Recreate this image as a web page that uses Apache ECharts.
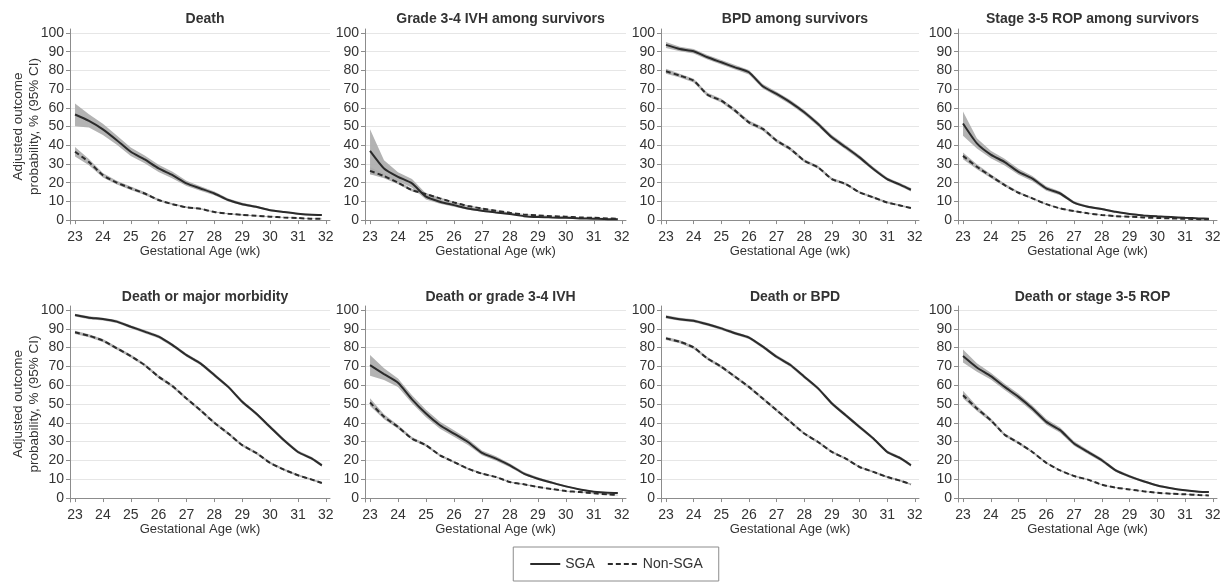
<!DOCTYPE html>
<html>
<head>
<meta charset="utf-8">
<title>Adjusted outcome probability by gestational age</title>
<script src="https://cdn.jsdelivr.net/npm/echarts@6/dist/echarts.min.js"></script>
<style>
  html, body { margin: 0; padding: 0; background: #fff; }
  #chart { width: 1232px; height: 585px; }
</style>
</head>
<body>
<div id="chart"></div>
<script>
// gestational age (weeks), 23 0/7 .. 31 6/7
var gaWeeks = [23, 23.5, 24, 24.5, 25, 25.5, 26, 26.5, 27, 27.5, 28, 28.5, 29, 29.5, 30, 30.5, 31, 31.5, 31.857];
var xTicks = [23, 24, 25, 26, 27, 28, 29, 30, 31, 32];
var yTicks = [0, 10, 20, 30, 40, 50, 60, 70, 80, 90, 100];
var panelTitles = ['Death', 'Grade 3-4 IVH among survivors', 'BPD among survivors', 'Stage 3-5 ROP among survivors',
    'Death or major morbidity', 'Death or grade 3-4 IVH', 'Death or BPD', 'Death or stage 3-5 ROP'];

// Death
var deathSga     = [56.4, 53, 48.5, 42.7, 36.5, 32.4, 27.6, 24, 19.6, 16.9, 14.2, 10.7, 8.5, 7.1, 5.3, 4.3, 3.4, 2.8, 2.7];
var deathSgaLo   = [50.2, 49.5, 45.5, 40.2, 34.2, 30.3, 25.7, 22.2, 18.2, 15.7, 13.2, 9.9, 7.8, 6.5, 4.8, 3.9, 3.0, 2.4, 2.2];
var deathSgaHi   = [62.3, 56.5, 51.5, 45.2, 38.8, 34.5, 29.5, 25.8, 21, 18.1, 15.2, 11.5, 9.2, 7.7, 5.8, 4.7, 3.8, 3.2, 3.2];
var deathNon     = [36.5, 31, 24, 20, 17, 14.2, 10.7, 8.5, 6.8, 6, 4.3, 3.4, 2.8, 2.3, 1.8, 1.4, 1.1, 0.7, 0.7];
var deathNonLo   = [34, 29.3, 22.8, 19, 16.1, 13.4, 10.1, 8, 6.4, 5.6, 4, 3.1, 2.5, 2.1, 1.6, 1.2, 0.9, 0.6, 0.5];
var deathNonHi   = [39, 32.7, 25.2, 21, 17.9, 15, 11.3, 9, 7.2, 6.4, 4.6, 3.7, 3.1, 2.5, 2, 1.6, 1.3, 0.9, 0.9];

// Grade 3-4 IVH among survivors
var ivhSga       = [37, 27.6, 23.1, 19.6, 12.5, 9.8, 8, 6.2, 5, 4.1, 3.2, 2.1, 1.6, 1.4, 1.2, 0.9, 0.7, 0.5, 0.5];
var ivhSgaLo     = [24.5, 24, 20.8, 17.3, 11, 8.7, 7.1, 5.5, 4.4, 3.6, 2.8, 1.8, 1.3, 1.1, 1, 0.7, 0.5, 0.4, 0.3];
var ivhSgaHi     = [48.5, 32, 25.6, 22, 14.2, 11, 9, 7, 5.6, 4.6, 3.6, 2.4, 1.9, 1.6, 1.4, 1.1, 0.9, 0.7, 0.7];
var ivhNon       = [26.3, 23.5, 20, 16, 13.9, 11.6, 9.4, 7.5, 6.2, 5, 3.9, 3, 2.5, 2.1, 1.8, 1.4, 1.2, 0.9, 0.7];
var ivhNonLo     = [24.5, 22.3, 19.1, 15.3, 13.3, 11.1, 9, 7.1, 5.9, 4.7, 3.7, 2.8, 2.3, 1.9, 1.6, 1.3, 1.1, 0.8, 0.6];
var ivhNonHi     = [28.2, 24.7, 20.9, 16.7, 14.5, 12.1, 9.8, 7.9, 6.5, 5.3, 4.1, 3.2, 2.7, 2.3, 2, 1.5, 1.3, 1, 0.8];

// BPD among survivors
var bpdSga       = [93.6, 91.4, 90.2, 87, 84.3, 81.6, 79, 71.5, 67.4, 62.9, 57.6, 51.3, 44.2, 38.9, 33.5, 27.3, 21.9, 18.7, 16.2];
var bpdSgaLo     = [92, 90.2, 89, 85.8, 83.1, 80.4, 77.8, 70.3, 66.2, 61.7, 56.4, 50.1, 43, 37.7, 32.4, 26.3, 21, 17.8, 15.3];
var bpdSgaHi     = [95.1, 92.6, 91.4, 88.2, 85.5, 82.8, 80.2, 72.7, 68.6, 64.1, 58.8, 52.5, 45.4, 40.1, 34.6, 28.3, 22.8, 19.6, 17.1];
var bpdNon       = [79.5, 77.2, 74.5, 67, 63.8, 58.5, 52.2, 48.7, 42.4, 38, 31.7, 28.2, 21.9, 19.3, 14.8, 12.1, 9.4, 7.7, 6.4];
var bpdNonLo     = [78.2, 76.2, 73.5, 66, 62.8, 57.5, 51.2, 47.7, 41.5, 37.1, 30.9, 27.4, 21.2, 18.6, 14.2, 11.5, 8.9, 7.2, 5.9];
var bpdNonHi     = [80.8, 78.2, 75.5, 68, 64.8, 59.5, 53.2, 49.7, 43.3, 38.9, 32.5, 29, 22.6, 20, 15.4, 12.7, 9.9, 8.2, 6.9];

// Stage 3-5 ROP among survivors
var ropSga       = [51.6, 41, 35, 31, 25.8, 22.2, 16.9, 14.2, 9.3, 7.1, 5.9, 4.4, 3.2, 2.5, 2, 1.6, 1.2, 0.9, 0.7];
var ropSgaLo     = [45, 38.3, 33, 29.2, 24.2, 20.8, 15.7, 13.2, 8.6, 6.5, 5.4, 4, 2.9, 2.2, 1.8, 1.4, 1, 0.7, 0.5];
var ropSgaHi     = [58, 43.7, 37, 32.8, 27.4, 23.6, 18.1, 15.2, 10, 7.7, 6.4, 4.8, 3.5, 2.8, 2.2, 1.8, 1.4, 1.1, 0.9];
var ropNon       = [34.3, 28.5, 23.5, 18.7, 14.6, 11.6, 8.5, 6.2, 4.8, 3.6, 2.7, 2.1, 1.8, 1.4, 1.1, 0.9, 0.7, 0.5, 0.4];
var ropNonLo     = [32.5, 27.2, 22.5, 17.9, 14, 11.1, 8.1, 5.9, 4.5, 3.4, 2.5, 1.9, 1.6, 1.3, 1, 0.8, 0.6, 0.4, 0.3];
var ropNonHi     = [36.1, 29.8, 24.5, 19.5, 15.2, 12.1, 8.9, 6.5, 5.1, 3.8, 2.9, 2.3, 2, 1.5, 1.2, 1, 0.8, 0.6, 0.5];

// Death or major morbidity
var dmmSga       = [97.3, 95.9, 95.2, 93.8, 91.1, 88.5, 85.8, 81.3, 76, 71.6, 65.4, 59.1, 51.2, 44.9, 37.8, 30.7, 24.5, 21, 17.4];
var dmmSgaLo     = [96.5, 95.1, 94.4, 93, 90.3, 87.6, 84.9, 80.4, 75.1, 70.7, 64.5, 58.2, 50.3, 44, 36.9, 29.8, 23.7, 20.2, 16.6];
var dmmSgaHi     = [98, 96.6, 95.9, 94.6, 91.9, 89.4, 86.7, 82.2, 76.9, 72.5, 66.3, 60, 52.1, 45.8, 38.7, 31.6, 25.3, 21.8, 18.2];
var dmmNon       = [88.1, 86.3, 83.7, 79.6, 75.5, 70.7, 64.5, 59.5, 52.9, 46.7, 40, 34.3, 28.1, 24, 18.7, 15.1, 12.1, 9.8, 8];
var dmmNonLo     = [87.2, 85.5, 82.9, 78.8, 74.7, 69.9, 63.7, 58.7, 52.1, 45.9, 39.2, 33.5, 27.4, 23.3, 18.1, 14.5, 11.6, 9.3, 7.5];
var dmmNonHi     = [89, 87.1, 84.5, 80.4, 76.3, 71.5, 65.3, 60.3, 53.7, 47.5, 40.8, 35.1, 28.8, 24.7, 19.3, 15.7, 12.6, 10.3, 8.5];

// Death or grade 3-4 IVH
var divhSga      = [70.7, 65.9, 61.3, 52.5, 44.9, 38.7, 34.3, 29.8, 24, 21, 17.4, 13, 10.3, 8.2, 6.2, 4.6, 3.4, 2.8, 2.7];
var divhSgaLo    = [65, 62.8, 59, 50.4, 42.9, 36.9, 32.6, 28.2, 22.7, 19.8, 16.4, 12.2, 9.6, 7.6, 5.7, 4.2, 3.1, 2.5, 2.3];
var divhSgaHi    = [76, 69, 63.6, 54.6, 46.9, 40.5, 36, 31.4, 25.3, 22.2, 18.4, 13.8, 11, 8.8, 6.7, 5, 3.7, 3.1, 3.1];
var divhNon      = [50.8, 43.2, 37.8, 31.6, 28.1, 22.7, 19.2, 15.6, 13, 11.2, 8.5, 7.3, 5.9, 4.8, 3.7, 3.2, 2.5, 2, 1.6];
var divhNonLo    = [49, 41.9, 36.8, 30.8, 27.4, 22.1, 18.7, 15.1, 12.6, 10.8, 8.2, 7, 5.6, 4.6, 3.5, 3, 2.3, 1.8, 1.4];
var divhNonHi    = [53, 44.5, 38.8, 32.4, 28.8, 23.3, 19.7, 16.1, 13.4, 11.6, 8.8, 7.6, 6.2, 5, 3.9, 3.4, 2.7, 2.2, 1.8];

// Death or BPD
var dbpdSga      = [96.4, 95, 94.3, 92.4, 90.2, 87.6, 85.3, 80.5, 75.1, 70.7, 64.5, 58.3, 50.3, 44, 37.8, 31.6, 24.5, 21, 17.4];
var dbpdSgaLo    = [95.5, 94.2, 93.5, 91.6, 89.4, 86.8, 84.5, 79.6, 74.2, 69.8, 63.6, 57.4, 49.4, 43.1, 36.9, 30.8, 23.7, 20.2, 16.6];
var dbpdSgaHi    = [97.2, 95.8, 95.1, 93.2, 91, 88.4, 86.1, 81.4, 76, 71.6, 65.4, 59.2, 51.2, 44.9, 38.7, 32.4, 25.3, 21.8, 18.2];
var dbpdNon      = [84.9, 83.1, 80.1, 74.2, 69.8, 64.5, 59.1, 52.9, 46.7, 40.5, 34.3, 29.8, 24.5, 21, 16.5, 13.9, 11.2, 9.1, 7.3];
var dbpdNonLo    = [84, 82.3, 79.3, 73.4, 69, 63.7, 58.3, 52.1, 45.9, 39.7, 33.6, 29.1, 23.9, 20.4, 16, 13.4, 10.7, 8.6, 6.8];
var dbpdNonHi    = [85.8, 83.9, 80.9, 75, 70.6, 65.3, 59.9, 53.7, 47.5, 41.3, 35, 30.5, 25.1, 21.6, 17, 14.4, 11.7, 9.6, 7.8];

// Death or stage 3-5 ROP
var dropSga      = [75.5, 69.4, 64.8, 59.1, 53.8, 47.6, 40.5, 36.1, 29, 24.5, 20.1, 14.7, 11.5, 8.9, 6.7, 5.2, 4.1, 3.4, 3.2];
var dropSgaLo    = [72, 67.2, 63, 57.4, 52.1, 46, 39, 34.7, 27.8, 23.4, 19.1, 13.9, 10.8, 8.3, 6.2, 4.8, 3.7, 3, 2.8];
var dropSgaHi    = [79, 71.6, 66.6, 60.8, 55.5, 49.2, 42, 37.5, 30.2, 25.6, 21.1, 15.5, 12.2, 9.5, 7.2, 5.6, 4.5, 3.8, 3.6];
var dropNon      = [54.7, 47.6, 41.4, 33.7, 29.3, 24.5, 18.7, 14.7, 11.7, 9.8, 7.1, 5.5, 4.6, 3.6, 2.8, 2.3, 2, 1.6, 1.4];
var dropNonLo    = [53, 46.3, 40.4, 32.9, 28.6, 23.9, 18.2, 14.3, 11.3, 9.5, 6.8, 5.3, 4.4, 3.4, 2.6, 2.1, 1.8, 1.4, 1.2];
var dropNonHi    = [57, 48.9, 42.4, 34.5, 30, 25.1, 19.2, 15.1, 12.1, 10.1, 7.4, 5.7, 4.8, 3.8, 3, 2.5, 2.2, 1.8, 1.6];

var panels = [
    [deathSga, deathSgaLo, deathSgaHi, deathNon, deathNonLo, deathNonHi],
    [ivhSga, ivhSgaLo, ivhSgaHi, ivhNon, ivhNonLo, ivhNonHi],
    [bpdSga, bpdSgaLo, bpdSgaHi, bpdNon, bpdNonLo, bpdNonHi],
    [ropSga, ropSgaLo, ropSgaHi, ropNon, ropNonLo, ropNonHi],
    [dmmSga, dmmSgaLo, dmmSgaHi, dmmNon, dmmNonLo, dmmNonHi],
    [divhSga, divhSgaLo, divhSgaHi, divhNon, divhNonLo, divhNonHi],
    [dbpdSga, dbpdSgaLo, dbpdSgaHi, dbpdNon, dbpdNonLo, dbpdNonHi],
    [dropSga, dropSgaLo, dropSgaHi, dropNon, dropNonLo, dropNonHi]
];

var FONT = '"Liberation Sans", Arial, sans-serif';
var TEXT = '#333';
var LINE = '#2b2b2b';
var BAND = '#ababab';

var colLeft = [70, 365, 661, 958];
var colWidth = [260, 261, 258, 259];
var rowTop = [29, 306];
var rowHeight = [195, 196];

function pts(ys) {
    return gaWeeks.map(function (x, i) { return [x, ys[i]]; });
}

// 95% CI band drawn as one polygon through the axis scales
function bandSeries(i, lo, hi) {
    var rows = gaWeeks.map(function (x, k) { return [x, lo[k], hi[k]]; });
    return {
        type: 'custom', xAxisIndex: i, yAxisIndex: i, silent: true, z: 1,
        data: rows,
        encode: { x: 0, y: [1, 2] },
        renderItem: function (params, api) {
            if (params.dataIndex !== 0) return;
            var upper = [], lower = [];
            rows.forEach(function (r) {
                upper.push(api.coord([r[0], r[2]]));
                lower.unshift(api.coord([r[0], r[1]]));
            });
            return {
                type: 'polygon',
                shape: { points: upper.concat(lower) },
                style: { fill: BAND, opacity: 0.9 }
            };
        }
    };
}

var grids = [], xAxes = [], yAxes = [], titles = [], series = [];

panels.forEach(function (p, i) {
    var row = Math.floor(i / 4), col = i % 4;
    grids.push({ left: colLeft[col], top: rowTop[row], width: colWidth[col], height: rowHeight[row] });

    titles.push({
        text: panelTitles[i],
        left: colLeft[col] + colWidth[col] / 2,
        top: row === 0 ? 7 : 285,
        textAlign: 'center',
        textStyle: { fontFamily: FONT, fontSize: 14, fontWeight: 'bold', color: TEXT }
    });

    xAxes.push({
        gridIndex: i,
        type: 'value',
        min: 22.82,
        max: 32.15,
        name: 'Gestational Age (wk)',
        nameLocation: 'middle',
        nameGap: 21,
        nameMoveOverlap: false,
        nameTextStyle: { fontFamily: FONT, fontSize: 13, color: TEXT },
        axisLine: { lineStyle: { color: '#8c8c8c', width: 1 } },
        axisTick: { length: 4, customValues: xTicks, lineStyle: { color: '#8c8c8c' } },
        axisLabel: { customValues: xTicks, margin: 6, fontFamily: FONT, fontSize: 14, color: TEXT },
        splitLine: { show: false }
    });

    yAxes.push({
        gridIndex: i,
        type: 'value',
        min: -2.1,
        max: 102.1,
        name: col === 0 ? 'Adjusted outcome\nprobability, % (95% CI)' : '',
        nameLocation: 'middle',
        nameGap: 28,
        nameRotate: 90,
        nameMoveOverlap: false,
        nameTextStyle: { fontFamily: FONT, fontSize: 13.5, color: TEXT, lineHeight: 16 },
        axisLine: { show: true, lineStyle: { color: '#8c8c8c', width: 1 } },
        axisTick: { show: true, length: 4, customValues: yTicks, lineStyle: { color: '#8c8c8c' } },
        axisLabel: { customValues: yTicks, margin: 6, fontFamily: FONT, fontSize: 14, color: TEXT },
        splitLine: { show: true, lineStyle: { color: '#e6e6e6', width: 1 } }
    });

    series.push(bandSeries(i, p[1], p[2]));
    series.push(bandSeries(i, p[4], p[5]));

    series.push({
        name: 'SGA', type: 'line', xAxisIndex: i, yAxisIndex: i,
        data: pts(p[0]), symbol: 'none', smooth: 0.2,
        lineStyle: { color: LINE, width: 2 }, itemStyle: { color: LINE }, z: 3
    });
    series.push({
        name: 'Non-SGA', type: 'line', xAxisIndex: i, yAxisIndex: i,
        data: pts(p[3]), symbol: 'none', smooth: 0.2,
        lineStyle: { color: LINE, width: 2, type: [5, 3] }, itemStyle: { color: LINE }, z: 3
    });
});

var chart = echarts.init(document.getElementById('chart'), null, { renderer: 'canvas' });
chart.setOption({
    animation: false,
    backgroundColor: '#fff',
    title: titles,
    grid: grids,
    xAxis: xAxes,
    yAxis: yAxes,
    legend: {
        data: ['SGA', 'Non-SGA'],
        left: 'center',
        top: 547,
        itemWidth: 30,
        itemHeight: 14,
        itemGap: 12,
        padding: [10, 16],
        borderColor: '#8c8c8c',
        borderWidth: 1,
        itemStyle: { opacity: 0 },
        textStyle: { fontFamily: FONT, fontSize: 14, color: TEXT }
    },
    series: series
});
</script>
</body>
</html>
